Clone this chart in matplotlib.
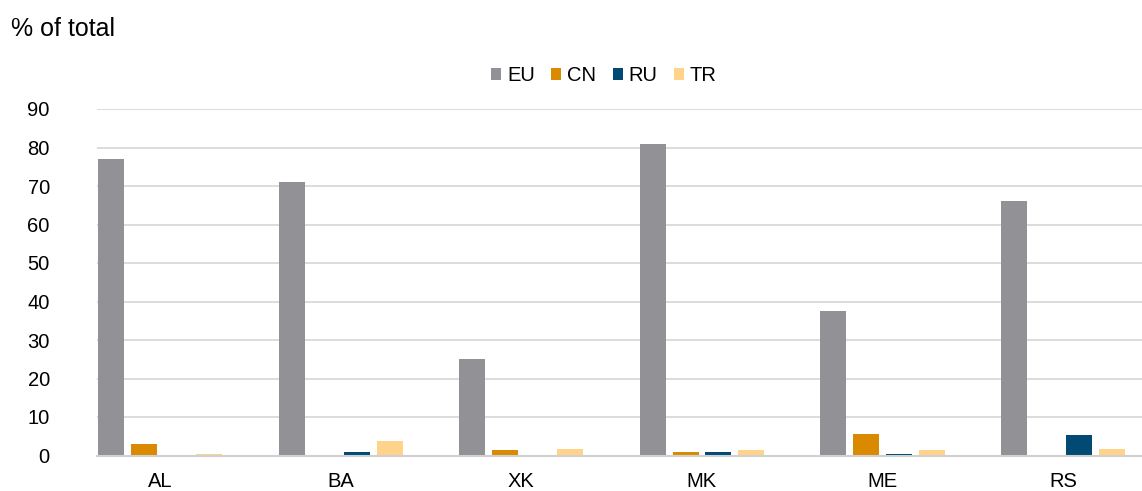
import matplotlib
matplotlib.use("Agg")
import matplotlib.pyplot as plt
import numpy as np

plt.rcParams['font.family'] = ['Liberation Sans', 'DejaVu Sans']

categories = ["AL", "BA", "XK", "MK", "ME", "RS"]
series_names = ["EU", "CN", "RU", "TR"]
eu = [77, 71, 25, 81, 37.5, 66]
cn = [2.9, 0, 1.3, 0.9, 5.6, 0]
ru = [0, 1.0, 0, 0.8, 0.5, 5.2]
tr = [0.5, 3.7, 1.7, 1.4, 1.4, 1.7]
colors = ["#929195", "#D98A00", "#004A74", "#FFD38A"]
yticks = [0, 10, 20, 30, 40, 50, 60, 70, 80, 90]

fig = plt.figure(figsize=(11.42, 4.91), dpi=100)
ax = fig.add_axes([97/1142, 35.5/491, 1 - 97/1142, (455.5-109)/491])

x = np.arange(len(categories))
step = 32.7/180.6
width = 26/180.6
for i, (name, vals, c) in enumerate(zip(series_names, [eu, cn, ru, tr], colors)):
    ax.bar(x + (i - 1.5) * step, vals, width=width, color=c, label=name, zorder=3)

ax.set_xlim(-0.349, 5.437)
ax.set_ylim(0, 90)
ax.set_yticks(yticks)
ax.set_xticks(x)
ax.set_xticklabels(categories)
ax.yaxis.grid(True, color="#D9D9D9", linewidth=1.3, zorder=0)
ax.set_axisbelow(True)
for s in ["top", "right", "left"]:
    ax.spines[s].set_visible(False)
ax.spines["bottom"].set_color("#D0D0D0")
ax.spines["bottom"].set_linewidth(1.5)
ax.spines["bottom"].set_zorder(4)
ax.tick_params(axis="both", length=0, labelsize=14.5, colors="black")
ax.tick_params(axis="y", pad=34)
ax.tick_params(axis="x", pad=12)

fig.text(11/1142, 1 - 36/491, "% of total", fontsize=18, va="baseline", ha="left")
leg = fig.legend(loc="center", bbox_to_anchor=(604/1142, 1 - 75.5/491), ncol=4, frameon=False,
                 fontsize=14.5, handlelength=0.5, handleheight=0.5, handletextpad=0.3,
                 columnspacing=0.8, borderpad=0)

fig.savefig("out.png", dpi=100)
